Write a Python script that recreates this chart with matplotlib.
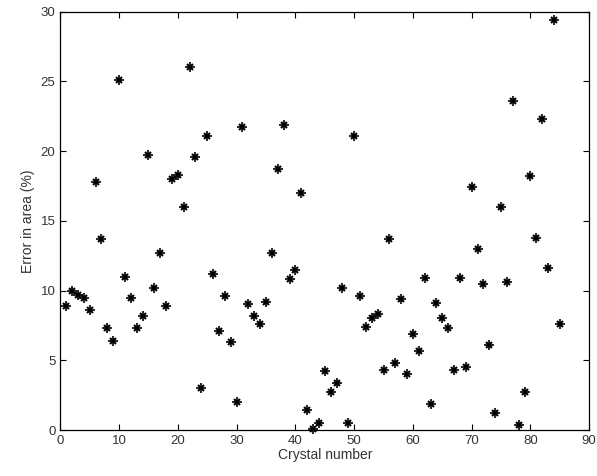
import matplotlib
matplotlib.use("Agg")
import matplotlib.pyplot as plt
import numpy as np

plt.rcParams['font.family'] = ['Liberation Sans', 'DejaVu Sans']

# error in estimated area for each crystal
crystal = np.arange(1, 86)
err_area = [8.9, 10.0, 9.7, 9.5, 8.6, 17.8, 13.7, 7.3, 6.4, 25.1,
            11.0, 9.5, 7.3, 8.2, 19.7, 10.2, 12.7, 8.9, 18.0, 18.3,
            16.0, 26.0, 19.6, 3.0, 21.1, 11.2, 7.1, 9.6, 6.3, 2.0,
            21.7, 9.0, 8.2, 7.6, 9.2, 12.7, 18.7, 21.9, 10.8, 11.5,
            17.0, 1.4, 0.05, 0.5, 4.2, 2.7, 3.4, 10.2, 0.5, 21.1,
            9.6, 7.4, 8.0, 8.3, 4.3, 13.7, 4.8, 9.4, 4.0, 6.9,
            5.7, 10.9, 1.9, 9.1, 8.0, 7.3, 4.3, 10.9, 4.5, 17.4,
            13.0, 10.5, 6.1, 1.2, 16.0, 10.6, 23.6, 0.35, 2.7, 18.2,
            13.8, 22.3, 11.6, 29.4, 7.6]

fig = plt.figure(figsize=(5.97, 4.76), dpi=100)
ax = fig.add_axes([0.101, 0.0966, 0.886, 0.879])

# matlab style asterisk: a plus with a small cross on top
ax.plot(crystal, err_area, linestyle='none', marker='+', ms=7.5, mew=1.2,
        color='black', clip_on=False)
ax.plot(crystal, err_area, linestyle='none', marker='x', ms=3.8, mew=1.5,
        color='black', clip_on=False)

ax.set_xlim(0, 90)
ax.set_ylim(0, 30)
ax.set_xticks(np.arange(0, 91, 10))
ax.set_yticks(np.arange(0, 31, 5))
ax.tick_params(direction='in', top=True, right=True, length=4, width=0.8,
               labelsize=9.5, colors='black', labelcolor='#333333')
for s in ax.spines.values():
    s.set_linewidth(0.9)

ax.set_xlabel('Crystal number', fontsize=10, color='#333333', labelpad=1)
ax.set_ylabel('Error in area (%)', fontsize=10, color='#333333', labelpad=4)

fig.savefig('out.png', dpi=100)
